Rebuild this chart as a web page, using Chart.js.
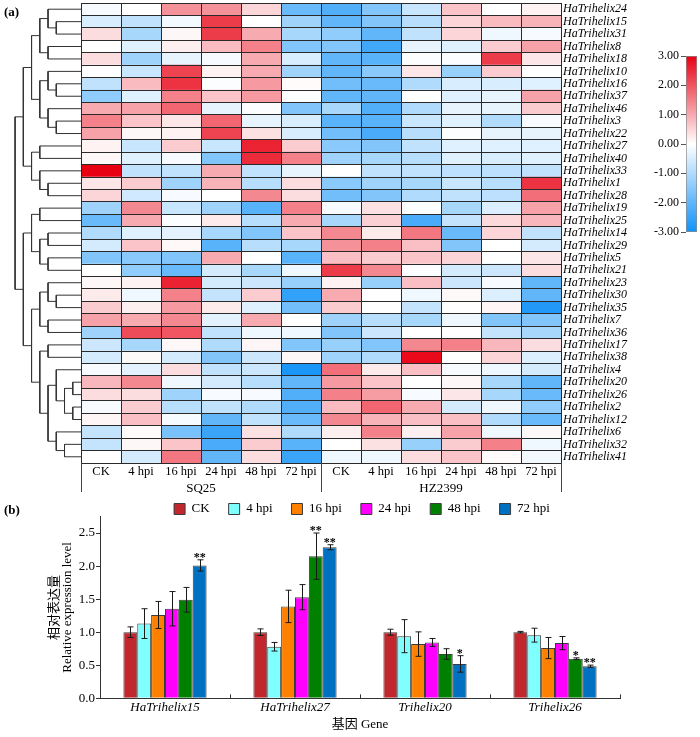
<!DOCTYPE html>
<html><head><meta charset="utf-8">
<script src="https://cdn.jsdelivr.net/npm/chart.js@4.4.0/dist/chart.umd.min.js"></script>
<style>
html,body{margin:0;padding:0;background:#fff;}
#wrap{position:relative;width:700px;height:737px;overflow:hidden;font-family:'Liberation Serif','Times New Roman',serif;}
canvas{position:absolute;}
#c1{left:0;top:-9px;z-index:2;}
#c2{left:0;top:480px;z-index:1;}
#c3{left:630px;top:40px;z-index:3;}
.lab{position:absolute;font-weight:bold;font-size:13px;color:#000;z-index:4;}
</style></head><body>
<div id="wrap">
<canvas id="c1" width="700" height="509"></canvas>
<canvas id="c2" width="700" height="257"></canvas>
<canvas id="c3" width="70" height="210"></canvas>
<div class="lab" style="left:4px;top:4px">(a)</div>
<div class="lab" style="left:4px;top:502px">(b)</div>
</div>
<script>
// ---------------- heatmap data ----------------
const genes = ['HaTrihelix24','HaTrihelix15','HaTrihelix31','HaTrihelix8','HaTrihelix18','HaTrihelix10','HaTrihelix16','HaTrihelix37','HaTrihelix46','HaTrihelix3','HaTrihelix22','HaTrihelix27','HaTrihelix40','HaTrihelix33','HaTrihelix1','HaTrihelix28','HaTrihelix19','HaTrihelix25','HaTrihelix14','HaTrihelix29','HaTrihelix5','HaTrihelix21','HaTrihelix23','HaTrihelix30','HaTrihelix35','HaTrihelix7','HaTrihelix36','HaTrihelix17','HaTrihelix38','HaTrihelix4','HaTrihelix20','HaTrihelix26','HaTrihelix2','HaTrihelix12','HaTrihelix6','HaTrihelix32','HaTrihelix41'];
const colLabels = ['CK','4 hpi','16 hpi','24 hpi','48 hpi','72 hpi','CK','4 hpi','16 hpi','24 hpi','48 hpi','72 hpi'];
const groupLabels = ['SQ25','HZ2399'];
const colorbarTicks = [3, 2, 1, 0, -1, -2, -3];
// one row per gene (same order as genes), columns as colLabels
const heatValues = [
  [-0.1, 0, 1.3, 1.3, 0.5, -1.9, -2.2, -1.6, -0.7, 0.7, 0, 0.15],
  [-0.5, -0.8, -0.15, 2.3, 0, -1.2, -2.0, -1.6, -0.9, 0.5, 0.8, 0.9],
  [0.4, -1.1, 0.1, 2.3, 1.0, -1.1, -1.4, -2.0, -0.8, 0.5, -0.2, -0.1],
  [0, -0.4, 0.2, 0.8, 1.5, -1.6, -1.6, -2.4, -0.3, -0.4, 0.6, 1.1],
  [0.4, -1.2, -0.3, -0.1, 1.0, -0.5, -2.0, -2.1, -0.05, -0.05, 2.3, 0.3],
  [0, -0.7, 2.2, 0.15, 1.0, -1.2, -2.0, -1.5, 0.3, -1.3, 0.6, 0],
  [-0.8, 0.8, 2.4, -0.05, 1.2, 0.05, -1.8, -1.9, -1.0, -0.5, -0.5, -0.4],
  [-1.4, -0.4, 1.5, 0.7, 1.2, -0.05, -2.0, -2.0, 0, -0.4, -0.3, 1.1],
  [1.0, 1.1, 1.8, -0.3, -0.05, -1.6, -1.1, -2.2, -1.0, -0.3, -0.3, 0.6],
  [1.5, 0.7, 0.3, 1.8, -0.3, -0.5, -2.1, -2.1, -0.7, -0.4, -1.0, -0.1],
  [1.1, 0.1, 0.15, 2.2, 0.35, -0.5, -1.8, -2.3, -0.9, -0.05, -0.3, -0.3],
  [0.15, -0.7, 0.6, -0.7, 2.6, 0.6, -1.5, -1.6, -0.8, -0.4, -0.4, -0.4],
  [0.1, -0.4, -0.1, -1.6, 2.5, 1.5, -1.2, -1.1, -0.9, -0.4, -0.5, -0.4],
  [3.0, -0.8, -0.8, 1.0, -0.8, -0.3, 0, -0.8, -0.8, -0.85, -0.85, -0.8],
  [0.3, 0.6, -1.2, 0.9, -0.9, 0.4, -1.5, -1.2, -1.1, -0.7, -0.9, 2.4],
  [0.5, -0.6, -0.1, 0, 1.4, 0.4, -1.8, -1.6, -1.0, -0.8, -0.85, 1.7],
  [-1.2, 1.4, -0.7, -1.2, -2.1, 1.5, -0.1, 0.35, -0.05, -1.1, -0.45, 1.1],
  [-1.9, 1.0, -0.05, 0.25, -0.9, 1.0, -1.1, 0.55, -2.3, -0.75, 0.45, 0.85],
  [-1.0, -0.4, -0.35, -1.1, -1.6, 0.7, 1.4, 0.25, 1.6, -1.9, 0.5, -0.8],
  [-0.55, 0.7, 0.08, -2.1, -0.9, -1.1, 1.3, 1.5, 0.75, -1.6, 0, -0.55],
  [-1.6, -1.5, -1.6, 1.0, 0, -2.1, 0.75, 0.6, 0.7, 0.5, 0, 0.3],
  [0, -1.4, -1.9, -0.55, -1.1, -0.2, 2.3, 1.4, -0.05, -0.55, -0.65, 0.4],
  [0.1, 0.15, 2.6, -0.55, -0.65, -1.3, 0.15, -1.3, 0.75, -0.65, -0.1, -2.0],
  [0.25, -0.2, 1.5, -0.75, 0.6, -2.6, 1.0, 0, -0.2, 0.07, -0.45, -2.0],
  [0.6, 0.2, 1.2, 0.25, -0.4, -1.8, 0.6, 0, -0.75, 0, 0.12, -2.8],
  [1.1, 1.0, 1.4, -0.35, 1.0, 0, -1.2, -0.9, -1.1, -0.2, -1.6, -1.6],
  [-1.2, 2.1, 2.0, -0.8, -0.2, -0.2, -1.6, -0.65, 0, 0, -0.75, -1.1],
  [-0.65, -1.1, 0.1, -1.0, 0.12, -1.6, -1.3, -1.6, 1.4, 1.5, 0.85, 0.4],
  [-0.55, 0.07, -0.55, -1.6, -0.65, 0.1, -1.2, -1.0, 2.9, 0, 0.5, -0.45],
  [-0.1, -0.35, 0.4, -0.8, -0.65, -2.9, 1.7, 0.25, 0.75, -0.1, -0.2, -0.55],
  [0.85, 1.4, -0.2, -0.55, -0.9, -2.0, 1.2, 0.7, 0, 0.1, -1.1, -2.0],
  [0.4, 0.4, -1.2, -0.1, -0.1, -2.2, 1.5, 1.15, -0.1, 0.3, -1.1, -1.9],
  [-0.1, 0.6, -0.9, -0.8, -1.0, -2.2, 0.8, 1.8, 1.0, -0.55, -0.2, -1.4],
  [0.12, 0.75, -0.12, -2.0, -0.8, -1.9, 1.4, 0.9, 0.75, 0.75, -1.0, -1.9],
  [-0.75, 0.05, -1.7, -2.5, 0.35, -1.0, 0.2, 1.5, 0.2, 1.1, -0.2, 0.07],
  [-0.75, 0.1, 0.7, -2.3, 0.6, -2.1, 0, 0.35, -1.3, 0.6, 1.5, -0.2],
  [0, -0.55, 1.6, -2.0, 0.4, -2.5, -0.2, -0.2, 0.4, 0.7, 0.05, -0.15]
];
// dendrogram: [left, right, linkage height]; leaves are row indices
const T_A = [[0, [1, 2, 3], 4], [3, 4, 4], 5];
const T_B = [[5, [6, 7, 3], 4], [8, [9, 10, 3], 4], 5];
const T_C = [[11, 12, 5], [13, [14, 15, 4], 5], 6];
const T_D = [[16, 17, 5], [[18, 19, 4], [20, 21, 4], 5], 6];
const T_E = [[22, [23, 24, 3], 4], [25, 26, 4], 5];
const T_F = [[27, 28, 4], [[29, [[30, 31, 1], [32, 33, 1], 2], 3], [34, [35, 36, 2], 3], 4], 5];
const dendroTree = [[[T_A, T_B, 6], T_C, 7], [T_D, [T_E, T_F, 6], 7], 8];

// ---------------- bar chart data ----------------
const barGenes = ['HaTrihelix15', 'HaTrihelix27', 'Trihelix20', 'Trihelix26'];
const seriesNames = ['CK', '4 hpi', '16 hpi', '24 hpi', '48 hpi', '72 hpi'];
const valCK  = [1.00, 1.00, 1.00, 1.00];
const val4   = [1.13, 0.78, 0.94, 0.955];
const val16  = [1.26, 1.39, 0.82, 0.76];
const val24  = [1.355, 1.53, 0.845, 0.835];
const val48  = [1.49, 2.15, 0.67, 0.60];
const val72  = [2.01, 2.285, 0.52, 0.485];
const errCK  = [0.08, 0.05, 0.045, 0.012];
const err4   = [0.225, 0.065, 0.25, 0.105];
const err16  = [0.205, 0.245, 0.185, 0.16];
const err24  = [0.26, 0.19, 0.06, 0.10];
const err48  = [0.187, 0.35, 0.08, 0.012];
const err72  = [0.085, 0.038, 0.125, 0.017];
const sigCK  = ['', '', '', ''];
const sig4   = ['', '', '', ''];
const sig16  = ['', '', '', ''];
const sig24  = ['', '', '', ''];
const sig48  = ['', '**', '', '*'];
const sig72  = ['**', '**', '*', '**'];
const yTicksMax = 2.75;

// ---------------- styling ----------------
const SERIF = "'Liberation Serif','Times New Roman','Noto Sans CJK SC',serif";
Chart.defaults.font.family = SERIF;
Chart.defaults.color = '#000';
const seriesColors = ['#C1272D', '#80FFFF', '#FF8000', '#FF00FF', '#008000', '#0070C0'];

function heatColor(v) {
  const t = Math.min(Math.abs(v) / 3, 1);
  const end = v >= 0 ? [232, 0, 18] : [18, 146, 248];
  const c = end.map(e => Math.round(255 + (e - 255) * t));
  return 'rgb(' + c.join(',') + ')';
}

// ---------------- heatmap chart ----------------
const dendroUnit = 0.206;
const dendroPts = [];
function walk(node) {
  if (typeof node === 'number') return {y: node, h: 0};
  const a = walk(node[0]), b = walk(node[1]), h = node[2];
  dendroPts.push({x: -a.h * dendroUnit, y: a.y}, {x: -h * dendroUnit, y: a.y},
                 {x: -h * dendroUnit, y: b.y}, {x: -b.h * dendroUnit, y: b.y}, {x: 0, y: null});
  return {y: (a.y + b.y) / 2, h};
}
walk(dendroTree);

const heatDatasets = colLabels.map((lab, c) => ({
  type: 'bar', indexAxis: 'y', grouped: false,
  xAxisID: 'x', yAxisID: 'y',
  data: genes.map(() => [c, c + 1]),
  backgroundColor: genes.map((g, r) => heatColor(heatValues[r][c])),
  borderWidth: 0, categoryPercentage: 1, barPercentage: 1
}));
heatDatasets.push({
  type: 'line', xAxisID: 'x', yAxisID: 'yd', data: dendroPts,
  borderColor: '#333', borderWidth: 1, pointRadius: 0, tension: 0,
  spanGaps: false, clip: false, fill: false
});

const groupBounds = [0, colLabels.length / 2, colLabels.length];
const bracketPlugin = {
  id: 'bracket',
  afterDraw(chart) {
    const x = chart.scales.x, b = chart.chartArea.bottom, ctx = chart.ctx;
    ctx.save(); ctx.strokeStyle = '#444'; ctx.lineWidth = 1;
    groupBounds.forEach(v => {
      const px = Math.round(x.getPixelForValue(v)) + 0.5;
      ctx.beginPath(); ctx.moveTo(px, b); ctx.lineTo(px, b + 29); ctx.stroke();
    });
    ctx.restore();
  }
};

new Chart(document.getElementById('c1'), {
  type: 'bar',
  data: {labels: genes, datasets: heatDatasets},
  options: {
    responsive: false, animation: false,
    layout: {padding: {left: 81, right: 69, top: 12, bottom: 1}},
    plugins: {legend: {display: false}, tooltip: {enabled: false}},
    scales: {
      x: {type: 'linear', position: 'bottom', weight: 0, min: 0, max: colLabels.length, offset: false,
          ticks: {display: false, stepSize: 1}, grid: {offset: false, color: '#2a2a2a', drawTicks: false, tickLength: 0, z: 1},
          border: {display: true, color: '#2a2a2a', z: 1},
          afterFit: s => { s.height = 0; }},
      x2: {type: 'category', axis: 'x', labels: colLabels, position: 'bottom', weight: 1, offset: true,
           grid: {display: false, drawTicks: false, tickLength: 0}, border: {display: false},
           ticks: {font: {size: 12.5}, padding: 1.5, autoSkip: false, maxRotation: 0, minRotation: 0},
           afterFit: s => { s.height = 16; }},
      x3: {type: 'category', axis: 'x', labels: groupLabels, position: 'bottom', weight: 2, offset: true,
           grid: {display: false, drawTicks: false, tickLength: 0}, border: {display: false},
           ticks: {font: {size: 13}, padding: 2, autoSkip: false, maxRotation: 0, minRotation: 0},
           afterFit: s => { s.height = 20; }},
      y: {type: 'category', position: 'right', offset: true,
          grid: {offset: true, color: '#2a2a2a', drawTicks: false, tickLength: 0, z: 1},
          border: {display: true, color: '#2a2a2a', z: 1},
          ticks: {font: {size: 12, style: 'italic'}, padding: 2, autoSkip: false},
          afterFit: s => { s.width = 70; }},
      yd: {type: 'linear', display: false, min: -0.5, max: genes.length - 0.5, reverse: true}
    }
  },
  plugins: [bracketPlugin]
});

// ---------------- colorbar ----------------
new Chart(document.getElementById('c3'), {
  type: 'bar',
  data: {labels: ['scale'], datasets: [{
    data: [[colorbarTicks[colorbarTicks.length - 1], colorbarTicks[0]]],
    backgroundColor: (ctx) => {
      const ch = ctx.chart; if (!ch.chartArea) return '#fff';
      const y = ch.scales.y;
      const top = y.getPixelForValue(colorbarTicks[0]);
      const bot = y.getPixelForValue(colorbarTicks[colorbarTicks.length - 1]);
      const g = ch.ctx.createLinearGradient(0, top, 0, bot);
      colorbarTicks.forEach(v => g.addColorStop((y.getPixelForValue(v) - top) / (bot - top), heatColor(v)));
      return g;
    },
    borderColor: '#8a8a8a', borderWidth: 1, borderSkipped: false,
    categoryPercentage: 1, barPercentage: 1
  }]},
  options: {
    responsive: false, animation: false,
    layout: {padding: {left: 0, right: 3, top: 16, bottom: 18}},
    plugins: {legend: {display: false}, tooltip: {enabled: false}},
    scales: {
      x: {display: false},
      y: {type: 'linear', min: -3, max: 3,
          ticks: {stepSize: 1, font: {size: 12}, padding: 2, callback: v => v.toFixed(2)},
          grid: {drawOnChartArea: false, tickLength: 5, color: '#555'},
          border: {display: false},
          afterFit: s => { s.width = 56; }}
    }
  }
});

// ---------------- bar chart ----------------
const vals = [valCK, val4, val16, val24, val48, val72];
const errs = [errCK, err4, err16, err24, err48, err72];
const sigs = [sigCK, sig4, sig16, sig24, sig48, sig72];
const barDatasets = seriesNames.map((n, i) => ({
  label: n, data: vals[i], errors: errs[i], sig: sigs[i],
  backgroundColor: seriesColors[i], borderColor: '#3c3c3c', borderWidth: 1,
  categoryPercentage: 0.64, barPercentage: 1
}));

const errorBarPlugin = {
  id: 'errorBars',
  afterDatasetsDraw(chart) {
    const ctx = chart.ctx, y = chart.scales.y;
    ctx.save(); ctx.strokeStyle = '#1a1a1a'; ctx.lineWidth = 1;
    chart.data.datasets.forEach((ds, i) => {
      const meta = chart.getDatasetMeta(i);
      meta.data.forEach((bar, j) => {
        const v = ds.data[j], e = ds.errors[j];
        const yt = y.getPixelForValue(v + e), yb = y.getPixelForValue(v - e);
        const x = Math.round(bar.x) + 0.5;
        ctx.beginPath();
        ctx.moveTo(x, yt); ctx.lineTo(x, yb);
        ctx.moveTo(x - 3, yt); ctx.lineTo(x + 3, yt);
        ctx.moveTo(x - 3, yb); ctx.lineTo(x + 3, yb);
        ctx.stroke();
        const s = ds.sig[j];
        if (s) {
          ctx.fillStyle = '#000'; ctx.font = 'bold 12px ' + SERIF;
          ctx.textAlign = 'center'; ctx.textBaseline = 'alphabetic';
          ctx.fillText(s, bar.x, yt + 1);
        }
      });
    });
    ctx.restore();
  }
};

new Chart(document.getElementById('c2'), {
  type: 'bar',
  data: {labels: barGenes, datasets: barDatasets},
  options: {
    responsive: false, animation: false,
    layout: {padding: {left: 24, right: 0, top: 3.5, bottom: 2.7}},
    plugins: {
      tooltip: {enabled: false},
      legend: {position: 'top', maxHeight: 33,
        labels: {boxWidth: 11, boxHeight: 11, padding: 19, font: {size: 13}, color: '#000'}}
    },
    scales: {
      x: {type: 'category', offset: true,
          grid: {offset: true, drawOnChartArea: false, drawTicks: true, tickLength: -4, color: '#333'},
          border: {color: '#333'},
          ticks: {font: {size: 13, style: 'italic'}, padding: 5, maxRotation: 0, autoSkip: false},
          title: {display: true, text: '基因 Gene', font: {size: 13}, padding: {top: 0, bottom: 1.5}},
          afterFit: s => { s.height = 36; }},
      y: {type: 'linear', position: 'left', min: 0, max: yTicksMax,
          ticks: {stepSize: 0.5, includeBounds: false, font: {size: 13}, padding: 1, callback: v => v.toFixed(1)},
          grid: {drawOnChartArea: false, tickLength: 4, color: '#333'},
          border: {color: '#333'},
          title: {display: true, text: ['相对表达量', 'Relative expression level'], font: {size: 13, lineHeight: 1.0}, padding: {top: 24.5, bottom: 0}},
          afterFit: s => { s.width = 76; }},
      yR: {type: 'linear', position: 'right', ticks: {display: false}, grid: {display: false}, border: {display: false},
           afterFit: s => { s.width = 80; }}
    }
  },
  plugins: [errorBarPlugin]
});
</script>
</body></html>
